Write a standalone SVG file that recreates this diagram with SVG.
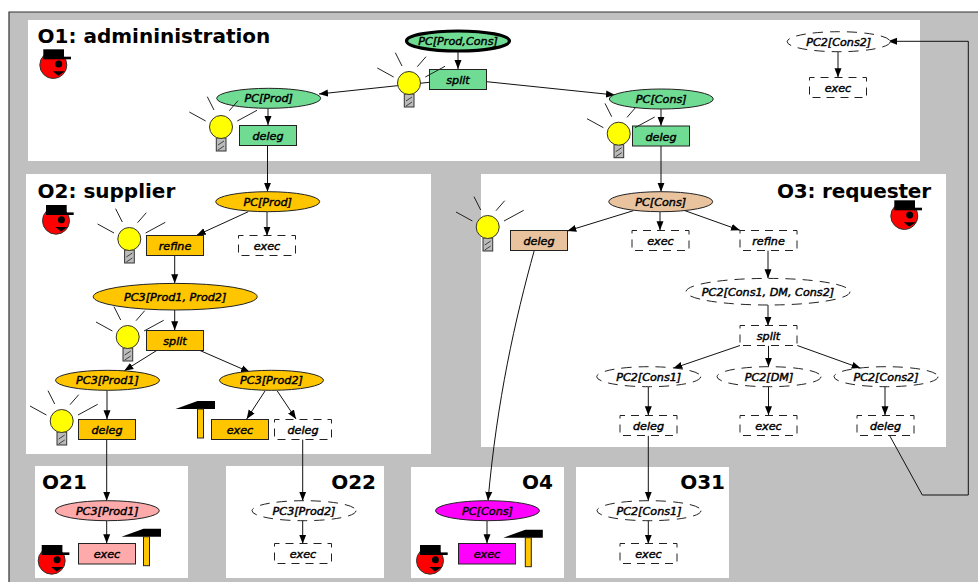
<svg xmlns="http://www.w3.org/2000/svg" xmlns:xlink="http://www.w3.org/1999/xlink" width="978" height="582" viewBox="0 0 978 582">
<style>
.panel{fill:#fff;stroke:none}
.title{font-family:"DejaVu Sans",sans-serif;font-weight:bold;font-size:20px;fill:#000}
.lbl{font-family:"DejaVu Sans",sans-serif;font-style:oblique;font-size:11.2px;fill:#000;stroke:#000;stroke-width:.45;text-anchor:middle}
.n{stroke:#222;stroke-width:1}
.d{fill:#fff;stroke:#222;stroke-width:1;stroke-dasharray:8 6;stroke-dashoffset:3}
.de{fill:#fff;stroke:#222;stroke-width:1;stroke-dasharray:10 7}
.g{fill:#70db93}.o{fill:#ffc600}.t{fill:#e8c39e}.p{fill:#ffaaaa}.m{fill:#ff00ff}
.c line,.c path{stroke:#111;stroke-width:1;fill:none;marker-end:url(#ah)}
.ray{stroke:#222;stroke-width:1}
</style>
<defs>
<marker id="ah" markerUnits="userSpaceOnUse" markerWidth="10" markerHeight="8" refX="9" refY="4" orient="auto"><path d="M0,.5 L9,4 L0,7.5 Z" fill="#000"/></marker>
<g id="bulb">
<line class="ray" x1="-31.7" y1="-15" x2="-15.3" y2="-6"/>
<line class="ray" x1="-13.7" y1="-30.3" x2="-7" y2="-17"/>
<line class="ray" x1="8.3" y1="-16.3" x2="17" y2="-26.3"/>
<line class="ray" x1="16.3" y1="-6" x2="36" y2="-16.7"/>
<rect x="-4.7" y="11" width="9.7" height="13" fill="#bbb" stroke="#333"/>
<path d="M-3,18 L3,14 M-3,23 L3,19" stroke="#222" stroke-width=".8" fill="none"/>
<circle r="11.5" fill="#ffff00" stroke="#333"/>
</g>
<g id="face">
<circle r="13.5" fill="#ff0000" stroke="#333"/>
<rect x="-10" y="-15.7" width="20.7" height="10" fill="#000"/>
<rect x="10" y="-8.3" width="7.7" height="2.6" fill="#000"/>
<circle cx="5.4" cy="-1" r="3.5" fill="#000"/>
<path d="M-.6,6.3 L11.7,6.3 L5,10.7 Z" fill="#000"/>
</g>
<g id="hammer">
<path d="M-22,0 L0,-8 L17.5,-8 L17.5,0 Z" fill="#000"/>
<rect x="0" y="0" width="6" height="29" fill="#ffc600" stroke="#222"/>
</g>
</defs>
<rect x="9" y="12" width="969" height="570" fill="#c0c0c0"/>
<path d="M9,582 L9,12 L978,12" fill="none" stroke="#333" stroke-width="1.2"/>
<g id="panels">
<rect class="panel" x="28" y="20" width="892" height="141"/>
<rect class="panel" x="26" y="174" width="405" height="280"/>
<rect class="panel" x="481" y="174" width="465" height="273"/>
<rect class="panel" x="35" y="466" width="153" height="112"/>
<rect class="panel" x="226" y="466" width="158" height="112"/>
<rect class="panel" x="411" y="467" width="153" height="111"/>
<rect class="panel" x="576" y="467" width="153" height="111"/>
</g>
<g id="titles">
<text class="title" x="37.5" y="43.3">O1: admininistration</text>
<text class="title" x="37.5" y="198.3">O2: supplier</text>
<text class="title" x="931" y="198.3" text-anchor="end" textLength="154">O3: requester</text>
<text class="title" x="42" y="489">O21</text>
<text class="title" x="376" y="489" text-anchor="end">O22</text>
<text class="title" x="553" y="489" text-anchor="end">O4</text>
<text class="title" x="725" y="489" text-anchor="end">O31</text>
</g>
<g id="connectors" class="c">
<line x1="458" y1="52" x2="458" y2="69"/>
<line x1="429.3" y1="82.3" x2="319" y2="94"/>
<line x1="486.7" y1="81.7" x2="615" y2="95"/>
<line x1="268" y1="108.3" x2="268" y2="125"/>
<line x1="661" y1="109" x2="661" y2="125.7"/>
<line x1="267.5" y1="145.3" x2="267.5" y2="191.7"/>
<line x1="661" y1="146" x2="661" y2="191.7"/>
<line x1="838" y1="51.7" x2="838" y2="77.3"/>
<path d="M889.7,435.7 L922.3,495 L968.3,495 L968.3,41.3 L888,41.3"/>
<line x1="248.3" y1="211.7" x2="196.7" y2="235.3"/>
<line x1="267" y1="211.7" x2="267" y2="235.7"/>
<line x1="174.7" y1="255.7" x2="174.7" y2="283.3"/>
<line x1="174.7" y1="310" x2="174.7" y2="330.3"/>
<line x1="156.7" y1="350.5" x2="124.3" y2="370.7"/>
<line x1="200" y1="350.5" x2="250" y2="372.3"/>
<line x1="107" y1="390.3" x2="107" y2="419.3"/>
<line x1="265" y1="391" x2="246.7" y2="419"/>
<line x1="277.3" y1="391" x2="296" y2="419"/>
<line x1="106.7" y1="439.3" x2="106.7" y2="500.7"/>
<line x1="106.7" y1="520.7" x2="106.7" y2="543.3"/>
<line x1="302.7" y1="439.3" x2="302.7" y2="500.7"/>
<line x1="302.7" y1="520.7" x2="302.7" y2="543.7"/>
<path d="M534.3,250.3 C515,320 497,400 488,500.7"/>
<line x1="487" y1="520.7" x2="487" y2="543.3"/>
<line x1="633.3" y1="210.7" x2="567.3" y2="231"/>
<line x1="660" y1="211.7" x2="660" y2="230.3"/>
<line x1="685" y1="210.7" x2="740" y2="230.3"/>
<line x1="768" y1="250.3" x2="768" y2="278.3"/>
<line x1="768" y1="305" x2="768" y2="325.7"/>
<line x1="740" y1="345.5" x2="673.3" y2="368.3"/>
<line x1="768.5" y1="345.7" x2="768.5" y2="366.7"/>
<line x1="797.3" y1="345.5" x2="860.7" y2="368.3"/>
<line x1="648.3" y1="386.7" x2="648.3" y2="415.3"/>
<line x1="768.5" y1="386.7" x2="768.5" y2="415.3"/>
<line x1="885" y1="386.7" x2="885" y2="415.3"/>
<line x1="648.3" y1="435.7" x2="648.3" y2="500.7"/>
<line x1="648.3" y1="520.7" x2="648.3" y2="543.7"/>
</g>
<g id="n_o1_root"><ellipse class="g" cx="458" cy="41" rx="51.5" ry="10" stroke="#000" stroke-width="3.2"/><text class="lbl" x="458" y="45">PC[Prod,Cons]</text></g>
<g id="n_o1_split"><rect class="n g" x="429.5" y="69.5" width="57" height="20"/><text class="lbl" x="458" y="84">split</text></g>
<g id="n_o1_prod"><ellipse class="n g" cx="268.7" cy="98.3" rx="52" ry="10"/><text class="lbl" x="268.7" y="102">PC[Prod]</text></g>
<g id="n_o1_cons"><ellipse class="n g" cx="661.3" cy="99" rx="52" ry="10"/><text class="lbl" x="661.3" y="103">PC[Cons]</text></g>
<g id="n_o1_deleg1"><rect class="n g" x="239.5" y="125.5" width="57" height="20"/><text class="lbl" x="268" y="140">deleg</text></g>
<g id="n_o1_deleg2"><rect class="n g" x="632.5" y="126" width="57" height="20"/><text class="lbl" x="661" y="141">deleg</text></g>
<g id="n_o1_pc2"><ellipse class="de" cx="838.7" cy="41.7" rx="51.5" ry="10"/><text class="lbl" x="838.7" y="45.5">PC2[Cons2]</text></g>
<g id="n_o1_exec"><rect class="d" x="809.5" y="77.5" width="57" height="20"/><text class="lbl" x="838" y="92">exec</text></g>

<g id="n_o2_prod"><ellipse class="n o" cx="267.7" cy="201.7" rx="52" ry="10"/><text class="lbl" x="267.7" y="205.5">PC[Prod]</text></g>
<g id="n_o2_refine"><rect class="n o" x="146.5" y="235.5" width="57" height="20"/><text class="lbl" x="175" y="250">refine</text></g>
<g id="n_o2_exec"><rect class="d" x="238.5" y="235.5" width="57" height="20"/><text class="lbl" x="267" y="250">exec</text></g>
<g id="n_o2_pc3"><ellipse class="n o" cx="175.2" cy="296.7" rx="82" ry="13.3"/><text class="lbl" x="175.2" y="300.5">PC3[Prod1, Prod2]</text></g>
<g id="n_o2_split"><rect class="n o" x="146.5" y="330.5" width="57" height="20"/><text class="lbl" x="175" y="345">split</text></g>
<g id="n_o2_prod1"><ellipse class="n o" cx="107.5" cy="380.3" rx="52" ry="10"/><text class="lbl" x="107.5" y="384">PC3[Prod1]</text></g>
<g id="n_o2_prod2"><ellipse class="n o" cx="271.5" cy="380.3" rx="52" ry="10"/><text class="lbl" x="271.5" y="384">PC3[Prod2]</text></g>
<g id="n_o2_deleg"><rect class="n o" x="78.5" y="419.5" width="57" height="20"/><text class="lbl" x="107" y="434">deleg</text></g>
<g id="n_o2_exec2"><rect class="n o" x="211.5" y="419.5" width="57" height="20"/><text class="lbl" x="240" y="434">exec</text></g>
<g id="n_o2_deleg2"><rect class="d" x="274.5" y="419.5" width="57" height="20"/><text class="lbl" x="303" y="434">deleg</text></g>

<g id="n_o3_cons"><ellipse class="n t" cx="660.7" cy="201.7" rx="52" ry="10"/><text class="lbl" x="660.7" y="205.5">PC[Cons]</text></g>
<g id="n_o3_deleg"><rect class="n t" x="510.5" y="230.5" width="57" height="20"/><text class="lbl" x="539" y="245">deleg</text></g>
<g id="n_o3_exec"><rect class="d" x="632" y="230.5" width="57" height="20"/><text class="lbl" x="660.5" y="245">exec</text></g>
<g id="n_o3_refine"><rect class="d" x="740" y="230.5" width="57" height="20"/><text class="lbl" x="768.5" y="245">refine</text></g>
<g id="n_o3_pc2"><ellipse class="de" cx="768" cy="291.7" rx="82" ry="13.3"/><text class="lbl" x="768" y="295.5">PC2[Cons1, DM, Cons2]</text></g>
<g id="n_o3_split"><rect class="d" x="740" y="325.5" width="57" height="20"/><text class="lbl" x="768.5" y="340">split</text></g>
<g id="n_o3_c1"><ellipse class="de" cx="648.7" cy="376.7" rx="52" ry="10"/><text class="lbl" x="648.7" y="380.5">PC2[Cons1]</text></g>
<g id="n_o3_dm"><ellipse class="de" cx="769" cy="376.7" rx="52" ry="10"/><text class="lbl" x="769" y="380.5">PC2[DM]</text></g>
<g id="n_o3_c2"><ellipse class="de" cx="886" cy="376.7" rx="52" ry="10"/><text class="lbl" x="886" y="380.5">PC2[Cons2]</text></g>
<g id="n_o3_deleg1"><rect class="d" x="620" y="415.5" width="57" height="20"/><text class="lbl" x="648.5" y="430">deleg</text></g>
<g id="n_o3_exec2"><rect class="d" x="740" y="415.5" width="57" height="20"/><text class="lbl" x="768.5" y="430">exec</text></g>
<g id="n_o3_deleg2"><rect class="d" x="857" y="415.5" width="57" height="20"/><text class="lbl" x="885.5" y="430">deleg</text></g>

<g id="n_o21_pc"><ellipse class="n p" cx="107.3" cy="510.7" rx="52" ry="10"/><text class="lbl" x="107.3" y="514.5">PC3[Prod1]</text></g>
<g id="n_o21_exec"><rect class="n p" x="78.5" y="543.5" width="57" height="20.5"/><text class="lbl" x="107" y="558">exec</text></g>
<g id="n_o22_pc"><ellipse class="de" cx="304" cy="510.7" rx="52" ry="10"/><text class="lbl" x="304" y="514.5">PC3[Prod2]</text></g>
<g id="n_o22_exec"><rect class="d" x="274.5" y="543.5" width="57" height="20"/><text class="lbl" x="303" y="558">exec</text></g>
<g id="n_o4_pc"><ellipse class="n m" cx="487.5" cy="510.7" rx="52" ry="10"/><text class="lbl" x="487.5" y="514.5">PC[Cons]</text></g>
<g id="n_o4_exec"><rect class="n m" x="458.5" y="543.5" width="57" height="20.5"/><text class="lbl" x="487" y="558">exec</text></g>
<g id="n_o31_pc"><ellipse class="de" cx="649" cy="510.7" rx="52" ry="10"/><text class="lbl" x="649" y="514.5">PC2[Cons1]</text></g>
<g id="n_o31_exec"><rect class="d" x="620" y="543.5" width="57" height="20"/><text class="lbl" x="648.5" y="558">exec</text></g>

<g id="icons">
<use xlink:href="#bulb" href="#bulb" x="409" y="83"/>
<use xlink:href="#bulb" href="#bulb" x="221" y="127"/>
<use xlink:href="#bulb" href="#bulb" x="618.7" y="133.7"/>
<use xlink:href="#bulb" href="#bulb" x="129.3" y="239"/>
<use xlink:href="#bulb" href="#bulb" x="127.7" y="337"/>
<use xlink:href="#bulb" href="#bulb" x="61.7" y="421"/>
<use xlink:href="#bulb" href="#bulb" x="487.7" y="227"/>
<use xlink:href="#face" href="#face" x="53.3" y="65"/>
<use xlink:href="#face" href="#face" x="56" y="220.7"/>
<use xlink:href="#face" href="#face" x="904.3" y="216"/>
<use xlink:href="#face" href="#face" x="51.7" y="560.7"/>
<use xlink:href="#face" href="#face" x="430" y="560.7"/>
<use xlink:href="#hammer" href="#hammer" x="197.5" y="409"/>
<use xlink:href="#hammer" href="#hammer" x="143.5" y="536.7"/>
<use xlink:href="#hammer" href="#hammer" x="525.3" y="537.7"/>
</g>
</svg>
